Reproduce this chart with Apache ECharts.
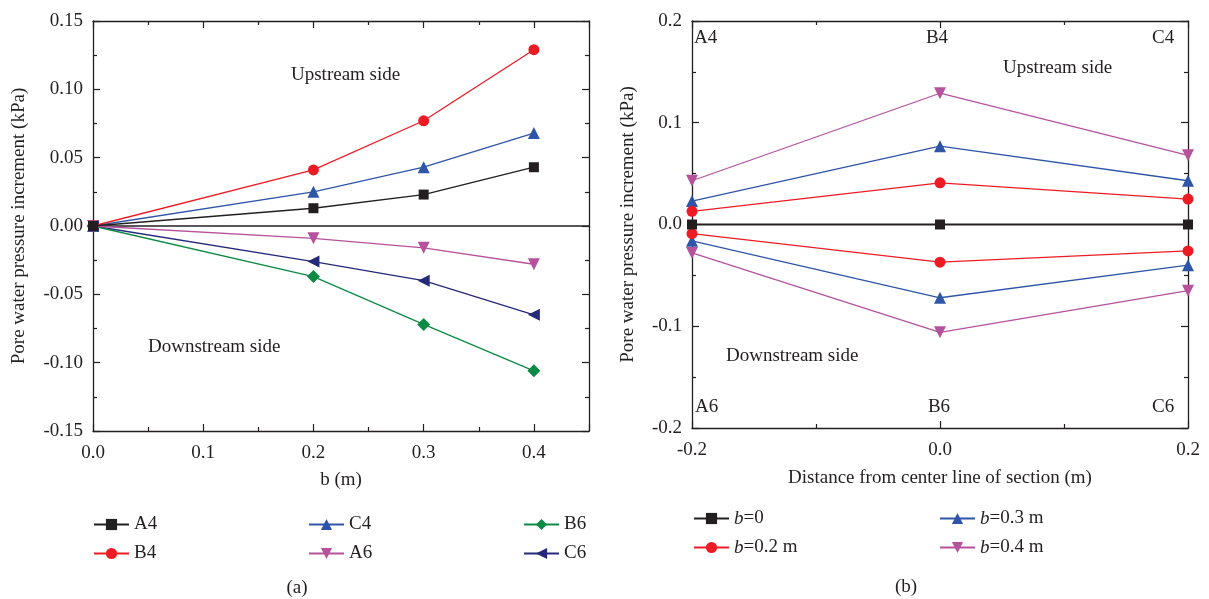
<!DOCTYPE html>
<html>
<head>
<meta charset="utf-8">
<script src="https://cdn.jsdelivr.net/npm/echarts@6/dist/echarts.min.js"></script>
<style>
html,body{margin:0;padding:0;background:#fff;}
#chart{width:1209px;height:599px;}
</style>
</head>
<body>
<div id="chart"></div>
<script>
// ---- data ----
const bValues = [0, 0.2, 0.3, 0.4];          // b (m)
const A4 = [0, 0.013, 0.023, 0.043];
const B4 = [0, 0.041, 0.077, 0.129];
const C4 = [0, 0.025, 0.043, 0.068];
const A6 = [0, -0.009, -0.016, -0.028];
const B6 = [0, -0.037, -0.072, -0.106];
const C6 = [0, -0.026, -0.040, -0.065];
const positions = [-0.2, 0, 0.2];             // distance from center line (m)
const upstreamPoints = ['A4', 'B4', 'C4'];
const downstreamPoints = ['A6', 'B6', 'C6'];
const bNames = ['b=0', 'b=0.2 m', 'b=0.3 m', 'b=0.4 m'];
const xTickDecimalsA = 1, yTickDecimalsA = 2, xTickDecimalsB = 1, yTickDecimalsB = 1;

// ---- styles ----
const FONT = 'Liberation Serif';
const INK = '#231f20';
const COLORS = {black: '#231f20', red: '#ed1c24', blue: '#2f55a8', magenta: '#b6529c', green: '#0d8a45', navy: '#24297a'};

const fmt = d => v => { const f = Math.pow(10, d); let r = Math.round(v * f) / f; if (r === 0) r = 0; return r.toFixed(d); };

const leftDefs = [
  {name: 'A4', vals: A4, color: COLORS.black, symbol: 'rect', size: 10, rot: 0},
  {name: 'B4', vals: B4, color: COLORS.red, symbol: 'circle', size: 11, rot: 0},
  {name: 'C4', vals: C4, color: COLORS.blue, symbol: 'triangle', size: 12, rot: 0},
  {name: 'A6', vals: A6, color: COLORS.magenta, symbol: 'triangle', size: 12, rot: 180},
  {name: 'B6', vals: B6, color: COLORS.green, symbol: 'diamond', size: 13, rot: 0},
  {name: 'C6', vals: C6, color: COLORS.navy, symbol: 'triangle', size: 12, rot: 90}
];

const series = [];
leftDefs.forEach((d, k) => {
  const s = {
    name: d.name, type: 'line', xAxisIndex: 0, yAxisIndex: 0,
    data: bValues.map((b, i) => [b, d.vals[i]]),
    symbol: d.symbol, symbolSize: d.size, symbolRotate: d.rot,
    itemStyle: {color: d.color}, lineStyle: {color: d.color, width: 1.3},
    z: 10 - k
  };
  if (k === 0) {
    s.markLine = {silent: true, symbol: 'none', label: {show: false},
      lineStyle: {color: INK, width: 1.6, type: 'solid'}, data: [{yAxis: 0}]};
  }
  series.push(s);
});

const upRows = [A4, B4, C4];
const downRows = [A6, B6, C6];
const rightStyles = [
  {color: COLORS.black, symbol: 'rect', size: 10, rot: 0, width: 1.8},
  {color: COLORS.red, symbol: 'circle', size: 11, rot: 0, width: 1.3},
  {color: COLORS.blue, symbol: 'triangle', size: 12, rot: 0, width: 1.3},
  {color: COLORS.magenta, symbol: 'triangle', size: 12, rot: 180, width: 1.3}
];
bNames.forEach((nm, i) => {
  const st = rightStyles[i];
  const groups = i === 0 ? [upRows] : [upRows, downRows];
  groups.forEach(rows => {
    series.push({
      name: nm, type: 'line', xAxisIndex: 2, yAxisIndex: 2,
      data: positions.map((x, j) => [x, rows[j][i]]),
      symbol: st.symbol, symbolSize: st.size, symbolRotate: st.rot,
      itemStyle: {color: st.color}, lineStyle: {color: st.color, width: st.width},
      z: 10 - i
    });
  });
});

const axisCommon = (extra) => Object.assign({
  type: 'value',
  axisLine: {show: true, onZero: false, lineStyle: {color: INK, width: 1.3}},
  axisTick: {show: true, inside: true, length: 7, lineStyle: {color: INK, width: 1.2}},
  minorTick: {show: true, splitNumber: 2, length: 4, lineStyle: {color: INK, width: 1.2}},
  splitLine: {show: false},
  minorSplitLine: {show: false},
  nameLocation: 'middle',
  nameTextStyle: {fontFamily: FONT, fontSize: 19, color: INK},
  axisLabel: {fontFamily: FONT, fontSize: 19, color: INK}
}, extra);

const mirror = (extra) => axisCommon(Object.assign({axisLabel: {show: false}}, extra));

const legendBase = {
  orient: 'vertical', itemWidth: 35, itemHeight: 14, itemGap: 10,
  textStyle: {fontFamily: FONT, fontSize: 19, color: INK},
  selectedMode: false
};
const bFormatter = name => '{i|b}' + name.slice(1);
const bRich = {i: {fontFamily: FONT, fontSize: 19, fontStyle: 'italic', color: INK}};

const txt = (text, x, y, align) => ({
  type: 'text', x: x, y: y, silent: true,
  style: {text: text, fill: INK, font: '19px "Liberation Serif"', textAlign: align || 'left', textVerticalAlign: 'middle'}
});

const option = {
  animation: false,
  backgroundColor: '#fff',
  textStyle: {fontFamily: FONT},
  grid: [
    {left: 93, top: 21, width: 496, height: 410},
    {left: 692, top: 21, width: 496, height: 407}
  ],
  xAxis: [
    axisCommon({gridIndex: 0, min: 0, max: 0.45, interval: 0.1, name: 'b (m)', nameGap: 40,
      axisLabel: {fontFamily: FONT, fontSize: 19, color: INK, margin: 13, showMaxLabel: false, formatter: fmt(xTickDecimalsA)}}),
    mirror({gridIndex: 0, position: 'top', min: 0, max: 0.45, interval: 0.1}),
    axisCommon({gridIndex: 1, min: -0.2, max: 0.2, interval: 0.2, name: 'Distance from center line of section (m)', nameGap: 41,
      axisLabel: {fontFamily: FONT, fontSize: 19, color: INK, margin: 13, formatter: fmt(xTickDecimalsB)}}),
    mirror({gridIndex: 1, position: 'top', min: -0.2, max: 0.2, interval: 0.2})
  ],
  yAxis: [
    axisCommon({gridIndex: 0, min: -0.15, max: 0.15, interval: 0.05, name: 'Pore water pressure increment (kPa)', nameGap: 64,
      axisLabel: {fontFamily: FONT, fontSize: 19, color: INK, margin: 10, formatter: fmt(yTickDecimalsA)}}),
    mirror({gridIndex: 0, position: 'right', min: -0.15, max: 0.15, interval: 0.05}),
    axisCommon({gridIndex: 1, min: -0.2, max: 0.2, interval: 0.1, name: 'Pore water pressure increment (kPa)', nameGap: 54,
      axisLabel: {fontFamily: FONT, fontSize: 19, color: INK, margin: 10, formatter: fmt(yTickDecimalsB)}}),
    mirror({gridIndex: 1, position: 'right', min: -0.2, max: 0.2, interval: 0.1})
  ],
  legend: [
    Object.assign({}, legendBase, {data: ['A4', 'B4'], left: 88, top: 510}),
    Object.assign({}, legendBase, {data: ['C4', 'A6'], left: 303, top: 510}),
    Object.assign({}, legendBase, {data: ['B6', 'C6'], left: 518, top: 510}),
    Object.assign({}, legendBase, {data: [bNames[0], bNames[1]], left: 688, top: 504, formatter: bFormatter,
      textStyle: {fontFamily: FONT, fontSize: 19, color: INK, rich: bRich}}),
    Object.assign({}, legendBase, {data: [bNames[2], bNames[3]], left: 934, top: 504, formatter: bFormatter,
      textStyle: {fontFamily: FONT, fontSize: 19, color: INK, rich: bRich}})
  ],
  graphic: [
    txt('Upstream side', 291, 75),
    txt('Downstream side', 148, 347),
    txt('Upstream side', 1003, 68),
    txt('Downstream side', 726, 356),
    txt(upstreamPoints[0], 694, 38),
    txt(upstreamPoints[1], 937, 38, 'center'),
    txt(upstreamPoints[2], 1152, 38),
    txt(downstreamPoints[0], 695, 407),
    txt(downstreamPoints[1], 939, 407, 'center'),
    txt(downstreamPoints[2], 1152, 407),
    txt('(a)', 297, 588, 'center'),
    txt('(b)', 906, 587, 'center')
  ],
  series: series
};

const chart = echarts.init(document.getElementById('chart'), null, {renderer: 'canvas'});
chart.setOption(option);
</script>
</body>
</html>
